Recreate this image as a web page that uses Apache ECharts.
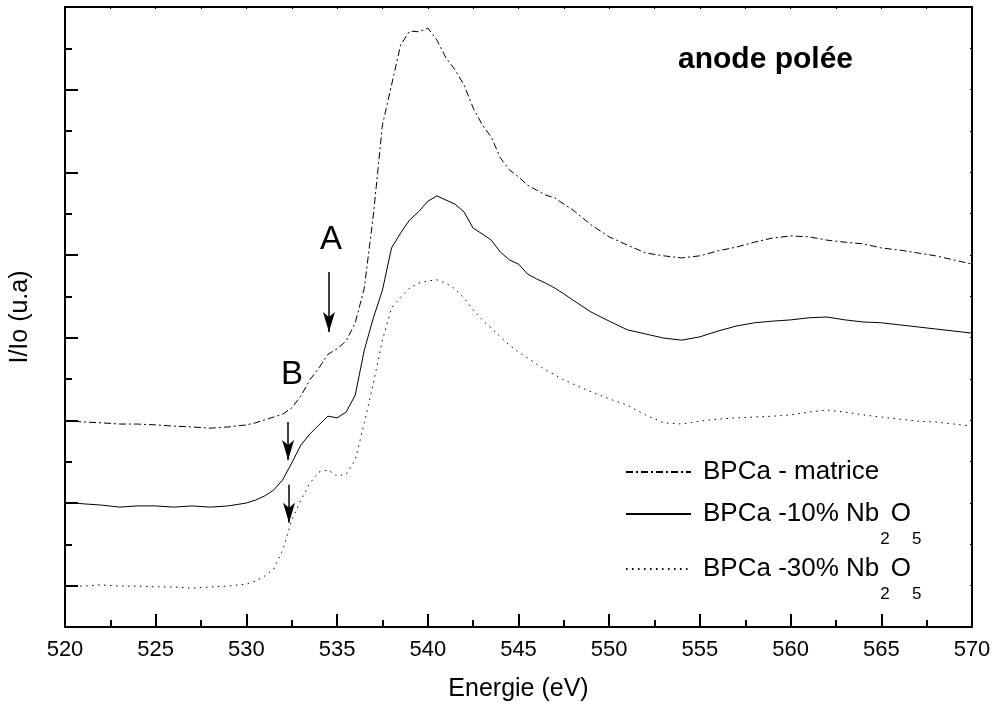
<!DOCTYPE html>
<html><head><meta charset="utf-8">
<script src="https://cdn.jsdelivr.net/npm/echarts@6/dist/echarts.min.js"></script>
<style>html,body{margin:0;padding:0;background:#fff}#c{width:996px;height:711px}</style>
</head><body><div id="c"></div>
<script>
// Photon energy (eV)
const energy = [520.5, 521, 522, 523, 524, 525, 526, 527, 528, 529, 530,
  530.5, 531, 531.5, 532, 532.5, 533, 533.5, 534, 534.5, 535, 535.5, 536, 536.5, 537, 537.5, 538, 538.5, 539, 539.5, 540,
  540.5, 541, 541.5, 542, 542.5, 543, 543.5, 544, 544.5, 545, 545.5, 546, 546.5, 547, 547.5, 548,
  549, 550, 551, 552, 553, 554, 555, 556, 557, 558, 559, 560, 561, 562, 563, 564, 565, 566, 567, 568, 569, 570];
// I/Io (u.a), offset curves
const matrice = [4.98, 4.96, 4.94, 4.91, 4.91, 4.89, 4.86, 4.84, 4.81, 4.84, 4.89,
  4.94, 5.01, 5.08, 5.15, 5.30, 5.59, 5.98, 6.27, 6.60, 6.73, 6.92, 7.36, 8.20, 9.97, 12.15, 13.11, 14.08, 14.42, 14.40, 14.49,
  14.20, 13.77, 13.48, 13.11, 12.56, 12.15, 11.85, 11.35, 11.06, 10.89, 10.69, 10.57, 10.45, 10.38, 10.23, 10.09,
  9.73, 9.44, 9.24, 9.05, 8.98, 8.93, 8.98, 9.10, 9.19, 9.31, 9.41, 9.46, 9.44, 9.36, 9.31, 9.27, 9.17, 9.12, 9.05, 8.98, 8.88, 8.78];
const nb10 = [3.00, 2.98, 2.95, 2.90, 2.93, 2.93, 2.90, 2.93, 2.90, 2.93, 3.00,
  3.07, 3.17, 3.31, 3.56, 3.97, 4.40, 4.67, 4.89, 5.10, 5.06, 5.20, 5.61, 6.70, 7.48, 8.15, 9.17, 9.53, 9.85, 10.05, 10.30,
  10.43, 10.33, 10.23, 10.04, 9.65, 9.51, 9.36, 9.07, 8.88, 8.78, 8.54, 8.42, 8.32, 8.20, 8.06, 7.91,
  7.62, 7.40, 7.19, 7.09, 6.99, 6.94, 7.02, 7.16, 7.28, 7.36, 7.40, 7.43, 7.48, 7.50, 7.43, 7.38, 7.36, 7.31, 7.26, 7.21, 7.16, 7.11];
const nb30 = [0.99, 0.99, 1.02, 0.99, 0.99, 0.97, 0.97, 0.94, 0.97, 0.99, 1.04,
  1.11, 1.23, 1.40, 1.86, 2.59, 3.07, 3.48, 3.75, 3.80, 3.65, 3.70, 4.04, 4.94, 5.90, 6.94, 7.72, 7.98, 8.20, 8.32, 8.37,
  8.40, 8.32, 8.18, 7.96, 7.67, 7.43, 7.23, 7.02, 6.82, 6.65, 6.51, 6.36, 6.22, 6.10, 5.98, 5.88,
  5.69, 5.52, 5.37, 5.13, 4.94, 4.91, 4.98, 5.03, 5.06, 5.08, 5.10, 5.13, 5.20, 5.25, 5.20, 5.13, 5.08, 5.03, 4.98, 4.96, 4.91, 4.86];
const seriesNames = ['BPCa - matrice', 'BPCa -10% Nb2O5', 'BPCa -30% Nb2O5'];
const yMajorTicks = [1, 3, 5, 7, 9, 11, 13, 15];
const yMinorTicks = [2, 4, 6, 8, 10, 12, 14];
const yAllTicks = [1, 2, 3, 4, 5, 6, 7, 8, 9, 10, 11, 12, 13, 14];
// arrows: [energy, from, to (tip)]
const arrows = [[534.55, 8.59, 7.14], [532.3, 4.96, 4.04], [532.35, 3.44, 2.52]];
const peakLabels = [['A', 534.67, 9.36], ['B', 532.52, 6.10]];
const titleText = 'anode polée';

const FONT = 'Liberation Sans, Arial, sans-serif';
const chart = echarts.init(document.getElementById('c'), null, {renderer: 'canvas'});
const pairs = arr => energy.map((e, i) => [e, arr[i]]);
const dashes = [[7, 3, 2, 3], 'solid', [1.5, 4.5]];
const curves = [matrice, nb10, nb30];

const fmt = n => n.replace(/^(.*Nb)2O5$/, '{m|$1}{s|2}{m|O}{s|5}').replace(/^([^{].*)$/, '{m|$1}');
const legendTops = [459, 501, 556];

const series = seriesNames.map((name, i) => ({
  name, type: 'line', data: pairs(curves[i]), symbol: 'none', showSymbol: false, silent: true,
  animation: false, xAxisIndex: 0, yAxisIndex: 0,
  lineStyle: {color: '#000', width: 1, type: dashes[i]},
  itemStyle: {color: '#000'}
}));
series[0].markLine = {
  silent: true, animation: false, symbol: ['none', 'arrow'], symbolSize: [9, 20],
  lineStyle: {color: '#000', width: 1.5, type: 'solid'}, label: {show: false},
  data: arrows.map(a => [{coord: [a[0], a[1]]}, {coord: [a[0], a[2]]}])
};
series[0].markPoint = {
  silent: true, animation: false, symbol: 'circle', symbolSize: 1,
  itemStyle: {color: 'rgba(0,0,0,0)'},
  label: {show: true, position: 'inside', formatter: p => p.name, color: '#000', fontSize: 33, fontFamily: FONT},
  data: peakLabels.map(p => ({name: p[0], coord: [p[1], p[2]]}))
};

const option = {
  animation: false,
  backgroundColor: '#fff',
  title: {text: titleText, left: 678, top: 45, padding: 0,
    textStyle: {fontSize: 30, fontWeight: 'bold', color: '#000', fontFamily: FONT}},
  grid: {left: 65, right: 24, top: 7, bottom: 84, containLabel: false, outerBoundsMode: 'none'},
  legend: seriesNames.map((n, i) => ({
    data: [n], orient: 'vertical', left: 625, top: legendTops[i], padding: 0,
    itemWidth: 65, itemHeight: 12, selectedMode: false,
    itemStyle: {opacity: 0, borderWidth: 0},
    formatter: fmt,
    textStyle: {color: '#000', fontFamily: FONT, fontSize: 26, padding: [0, 0, 0, 7],
      rich: {m: {fontSize: 26, fontFamily: FONT, color: '#000'},
             s: {fontSize: 17, fontFamily: FONT, color: '#000', padding: [50, 1, 0, 1]}}}
  })),
  xAxis: [{
    type: 'value', min: 520, max: 570, interval: 5, position: 'bottom',
    name: 'Energie (eV)', nameLocation: 'middle', nameGap: 50,
    nameTextStyle: {fontSize: 25, color: '#000', fontFamily: FONT},
    axisLine: {show: true, onZero: false, lineStyle: {color: '#000', width: 2}},
    axisTick: {show: true, inside: true, length: 13, lineStyle: {color: '#000', width: 2}},
    minorTick: {show: true, splitNumber: 2, length: 7, lineStyle: {color: '#000', width: 2}},
    axisLabel: {fontSize: 22, color: '#000', margin: 12, fontFamily: FONT, showMinLabel: true, showMaxLabel: true},
    splitLine: {show: false}
  }, {
    type: 'value', min: 520, max: 570, interval: 2.5, position: 'top',
    axisLine: {show: true, onZero: false, lineStyle: {color: '#000', width: 2}},
    axisTick: {show: true, inside: true, length: 2, lineStyle: {color: '#000', width: 1}},
    axisLabel: {show: false}, splitLine: {show: false}
  }],
  yAxis: [{
    type: 'value', min: 0, max: 15, position: 'left',
    name: 'I/Io (u.a)', nameLocation: 'middle', nameGap: 32,
    nameTextStyle: {fontSize: 25, color: '#000', fontFamily: FONT},
    axisLine: {show: true, onZero: false, lineStyle: {color: '#000', width: 2}},
    axisTick: {show: true, inside: true, length: 13, lineStyle: {color: '#000', width: 2}, customValues: yMajorTicks},
    axisLabel: {show: false}, splitLine: {show: false}
  }, {
    type: 'value', min: 0, max: 15, position: 'left',
    axisLine: {show: false},
    axisTick: {show: true, inside: true, length: 7, lineStyle: {color: '#000', width: 2}, customValues: yMinorTicks},
    axisLabel: {show: false}, splitLine: {show: false}
  }, {
    type: 'value', min: 0, max: 15, position: 'right',
    axisLine: {show: true, onZero: false, lineStyle: {color: '#000', width: 2}},
    axisTick: {show: true, inside: true, length: 2, lineStyle: {color: '#000', width: 1}, customValues: yAllTicks},
    axisLabel: {show: false}, splitLine: {show: false}
  }],
  series
};
chart.setOption(option);
</script>
</body></html>
